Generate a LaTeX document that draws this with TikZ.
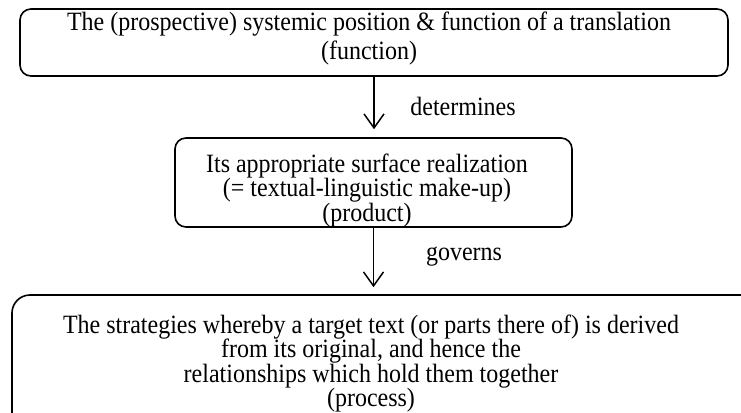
\documentclass[tikz,border=0pt]{standalone}
\usepackage{graphicx}
\usepackage{fontspec}
\setmainfont{Liberation Serif}
\usetikzlibrary{arrows.meta}

% lines of text, centred, a little taller than wide
\newcommand{\tallstack}[2]{\scalebox{1}[1.1]{\vbox{\baselineskip=#1\lineskiplimit=-20pt\halign{\hfil##\hfil\cr#2\crcr}}}}

\begin{document}
\begin{tikzpicture}[x=1pt,y=-1pt]
        \tikzstyle{every node} = [font=\fontsize{24}{24}\selectfont]
        \tikzstyle{stage} = [draw, line width=1.6pt, rounded corners=11pt, inner sep=0pt]
        \tikzstyle{link} = [line width=1.5pt, -{Straight Barb[length=14pt,width=20pt,line width=1.5pt]}]
        \useasboundingbox (0,0) rectangle (741,412);
        \clip (0,0) rectangle (741,412);

        \node[stage, minimum width=708pt, minimum height=67pt] (funcbox) at (374,42.5) {};
        \node[stage, minimum width=397pt, minimum height=89pt] (prodbox) at (373.5,182.5) {};
        \node[stage, rounded corners=18pt, minimum width=768pt, minimum height=145pt] (procbox) at (396,367.5) {};

        \node (func) at (369,38.5) {\tallstack{25.5pt}{The (prospective) systemic position \& function of a translation\cr(function)}};
        \node (prod) at (367,190.5) {\tallstack{22.3pt}{Its appropriate surface realization\cr(= textual-linguistic make-up)\cr(product)}};
        \node (proc) at (371,363.5) {\tallstack{22.1pt}{The strategies whereby a target text (or parts there of) is derived\cr from its original, and hence the\cr relationships which hold them together\cr(process)}};
        \node (det) at (463,106) {\scalebox{1}[1.1]{determines}};
        \node (gov) at (464,257) {\scalebox{1}[1.1]{governs}};

        \draw[link, shorten >=8pt] (funcbox.south) -- (funcbox.south |- prodbox.north);
        \draw[link, shorten >=7pt] (prodbox.south) -- (prodbox.south |- procbox.north);
\end{tikzpicture}
\end{document}
